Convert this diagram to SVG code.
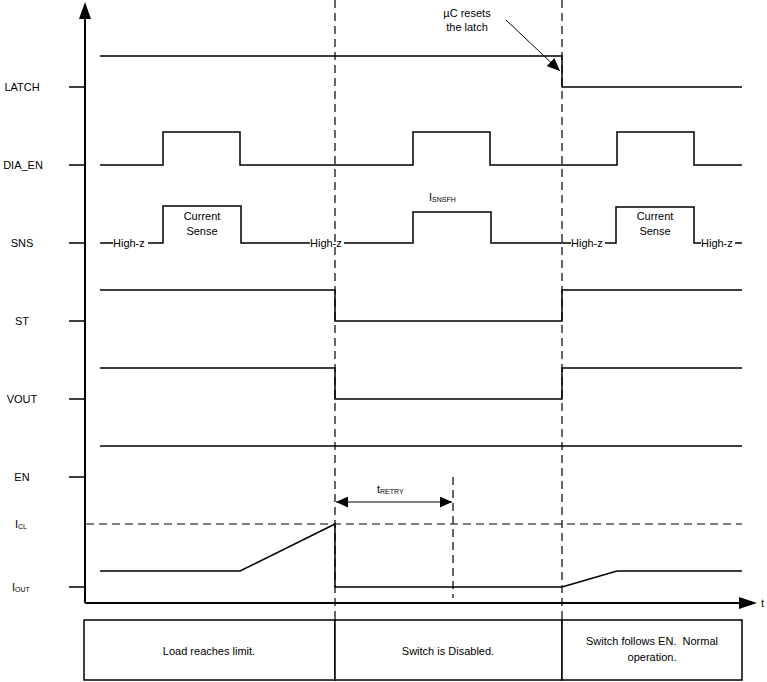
<svg xmlns="http://www.w3.org/2000/svg" width="767" height="682" viewBox="0 0 767 682">
<style>
text{font-family:"Liberation Sans",Arial,sans-serif;font-size:11px;fill:#000}
.lbl{text-anchor:middle}
.sig{fill:none;stroke:#000;stroke-width:1.5}
.tick{stroke:#000;stroke-width:1.5}
.dash{fill:none;stroke:#000;stroke-width:1.2;stroke-dasharray:8,5}
.box{fill:#fff;stroke:#000;stroke-width:1.5}
.sub{font-size:7px}
</style>
<defs>
<marker id="ah" markerWidth="13" markerHeight="11" refX="13" refY="5.5" orient="auto" markerUnits="userSpaceOnUse"><path d="M0,0 L13,5.5 L0,11 Z" fill="#000"/></marker>
<marker id="ahs" markerWidth="12" markerHeight="11" refX="12" refY="5.5" orient="auto-start-reverse" markerUnits="userSpaceOnUse"><path d="M0,0 L12,5.5 L0,11 Z" fill="#000"/></marker>
</defs>
<rect width="767" height="682" fill="#fff"/>

<g id="axes">
<line x1="85" y1="603" x2="85" y2="18" stroke="#000" stroke-width="2"/>
<path d="M79,19 L85,2 L91,19 Z" fill="#000"/>
<line x1="85" y1="603" x2="740" y2="603" stroke="#000" stroke-width="2"/>
<path d="M739,597 L757,603 L739,609 Z" fill="#000"/>
<text x="761" y="607">t</text>
</g>

<g id="labels">
<text class="lbl" x="22" y="91">LATCH</text>
<line class="tick" x1="69" y1="87" x2="85" y2="87"/>
<text class="lbl" x="23" y="169">DIA_EN</text>
<line class="tick" x1="69" y1="165" x2="85" y2="165"/>
<text class="lbl" x="22" y="247">SNS</text>
<line class="tick" x1="69" y1="243" x2="85" y2="243"/>
<text class="lbl" x="22" y="325">ST</text>
<line class="tick" x1="69" y1="321" x2="85" y2="321"/>
<text class="lbl" x="22" y="403">VOUT</text>
<line class="tick" x1="69" y1="399" x2="85" y2="399"/>
<text class="lbl" x="22" y="481">EN</text>
<line class="tick" x1="69" y1="477" x2="85" y2="477"/>
<text x="15" y="528">I<tspan class="sub" dy="1">CL</tspan></text>
<text x="12" y="591">I<tspan class="sub" dy="1">OUT</tspan></text>
<line class="tick" x1="69" y1="587" x2="85" y2="587"/>
</g>

<g id="guides">
<line class="dash" x1="335" y1="0" x2="335" y2="620"/>
<line class="dash" x1="562" y1="0" x2="562" y2="620"/>
<line class="dash" x1="453" y1="477" x2="453" y2="598"/>
<line class="dash" x1="86" y1="524" x2="742" y2="524"/>
</g>

<g id="latch">
<polyline class="sig" points="100,56 562,56 562,87 742,87"/>
<text class="lbl" x="467" y="17">µC resets</text>
<text class="lbl" x="467" y="31">the latch</text>
<line x1="506" y1="20" x2="560" y2="71" stroke="#000" stroke-width="1" marker-end="url(#ah)"/>
</g>

<g id="dia_en">
<polyline class="sig" points="100,165 163,165 163,132 240,132 240,165 413,165 413,132 490,132 490,165 617,165 617,132 694,132 694,165 742,165"/>
</g>

<g id="sns">
<line class="sig" x1="100" y1="243" x2="113" y2="243"/>
<text x="113" y="247">High-z</text>
<polyline class="sig" points="148,243 163,243 163,206 241,206 241,243 310,243"/>
<text class="lbl" x="202" y="220">Current</text>
<text class="lbl" x="202" y="235">Sense</text>
<text x="310" y="247">High-z</text>
<polyline class="sig" points="344,243 413,243 413,212 491,212 491,243 562,243 571,243"/>
<text x="429" y="201">I<tspan class="sub" dy="1">SNSFH</tspan></text>
<text x="571" y="247">High-z</text>
<polyline class="sig" points="605,243 616,243 616,207 694,207 694,243 701,243"/>
<text class="lbl" x="655" y="220">Current</text>
<text class="lbl" x="655" y="235">Sense</text>
<text x="701" y="247">High-z</text>
<line class="sig" x1="735" y1="243" x2="742" y2="243"/>
</g>

<g id="st">
<polyline class="sig" points="100,290 335,290 335,321 562,321 562,290 742,290"/>
</g>

<g id="vout">
<polyline class="sig" points="100,368 335,368 335,399 562,399 562,368 742,368"/>
</g>

<g id="en">
<line class="sig" x1="100" y1="446" x2="742" y2="446"/>
</g>

<g id="iout">
<polyline class="sig" points="100,571 240,571 335,524 335,587 562,587 617,571 742,571"/>
</g>

<g id="tretry">
<line x1="336" y1="502" x2="452" y2="502" stroke="#000" stroke-width="1.2" marker-start="url(#ahs)" marker-end="url(#ahs)"/>
<text x="377" y="493">t<tspan class="sub" dy="1">RETRY</tspan></text>
</g>

<g id="phases">
<rect class="box" x="84" y="620" width="251" height="60"/>
<rect class="box" x="335" y="620" width="227" height="60"/>
<rect class="box" x="562" y="620" width="180" height="60"/>
<text class="lbl" x="209" y="655">Load reaches limit.</text>
<text class="lbl" x="448" y="655">Switch is Disabled.</text>
<text class="lbl" x="652" y="645" xml:space="preserve">Switch follows EN.  Normal</text>
<text class="lbl" x="652" y="661">operation.</text>
</g>
</svg>
